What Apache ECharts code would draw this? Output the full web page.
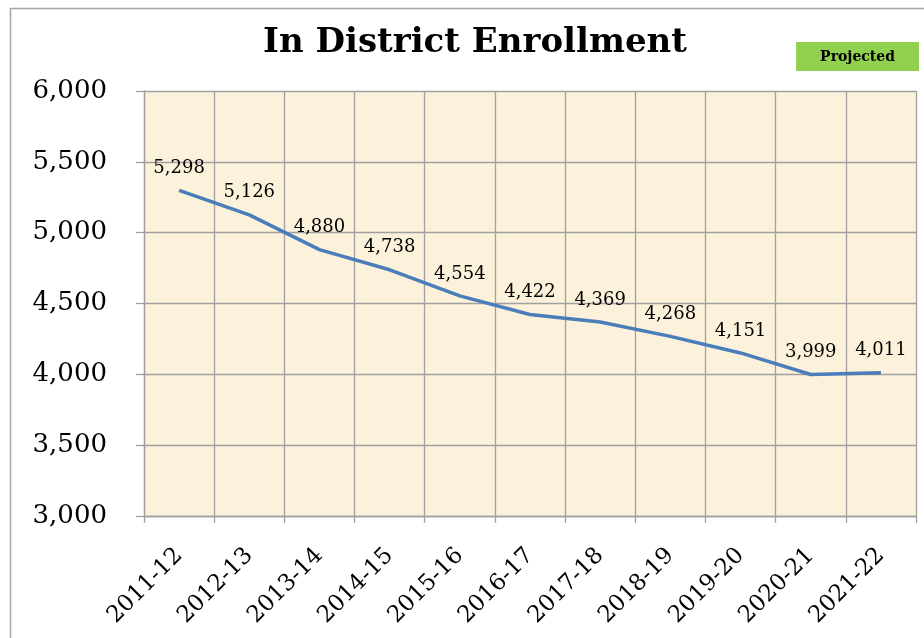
<!DOCTYPE html>
<html>
<head>
<meta charset="utf-8">
<script src="https://cdn.jsdelivr.net/npm/echarts@6/dist/echarts.min.js"></script>
<style>html,body{margin:0;padding:0;background:#fff}#c{width:924px;height:638px}</style>
</head>
<body>
<div id="c"></div>
<script>
const categories = ['2011-12','2012-13','2013-14','2014-15','2015-16','2016-17','2017-18','2018-19','2019-20','2020-21','2021-22'];
const enrollment = [5298, 5126, 4880, 4738, 4554, 4422, 4369, 4268, 4151, 3999, 4011];
const yTicks = [3000, 3500, 4000, 4500, 5000, 5500, 6000];
const titleText = 'In District Enrollment';
const noteText = 'Projected';

const FONT = 'DejaVu Serif';
const fmt = v => v.toLocaleString('en-US');
const chart = echarts.init(document.getElementById('c'), null, {renderer: 'canvas'});
chart.setOption({
  animation: false,
  backgroundColor: '#ffffff',
  graphic: [{
    type: 'rect', z: -10, silent: true,
    shape: {x: 10.5, y: 8.5, width: 940, height: 660},
    style: {fill: 'none', stroke: '#A6A6A6', lineWidth: 1.5}
  }],
  title: [{
    text: titleText, left: 470, top: 21, textAlign: 'center',
    textStyle: {fontFamily: FONT, fontWeight: 'bold', fontSize: 34, color: '#000'}
  }, {
    text: noteText, right: 5, top: 42,
    backgroundColor: '#92D050', padding: [8, 24, 7, 24],
    textStyle: {fontFamily: FONT, fontWeight: 'bold', fontSize: 14, color: '#000'}
  }],
  grid: {
    left: 144, top: 91, right: 8, bottom: 122,
    show: true, backgroundColor: '#FCF1DA', borderWidth: 0
  },
  xAxis: {
    type: 'category', data: categories, boundaryGap: true,
    axisLine: {lineStyle: {color: '#A0A0A0', width: 1.3}},
    axisTick: {show: true, length: 7, interval: 0, lineStyle: {color: '#A0A0A0', width: 1.3}},
    splitLine: {show: true, interval: 0, lineStyle: {color: '#A0A0A0', width: 1.3}},
    axisLabel: {rotate: 45, interval: 0, margin: 36, fontFamily: FONT, fontSize: 23, color: '#000'}
  },
  yAxis: {
    type: 'value', min: yTicks[0], max: yTicks[yTicks.length - 1], interval: 500,
    axisLine: {show: true, lineStyle: {color: '#A0A0A0', width: 1.3}},
    axisTick: {show: true, length: 8, lineStyle: {color: '#A0A0A0', width: 1.3}},
    splitLine: {show: true, lineStyle: {color: '#A0A0A0', width: 1.3}},
    axisLabel: {margin: 37, fontFamily: FONT, fontSize: 26, color: '#000', formatter: fmt}
  },
  series: [{
    type: 'line', data: enrollment, symbol: 'circle', symbolSize: 2, showSymbol: true,
    itemStyle: {color: 'rgba(74,126,187,0)'},
    lineStyle: {color: '#4A7EBB', width: 3.5},
    label: {show: true, position: 'top', distance: 12, fontFamily: FONT, fontSize: 18, color: '#000', formatter: p => fmt(p.value)}
  }]
});
</script>
</body>
</html>
